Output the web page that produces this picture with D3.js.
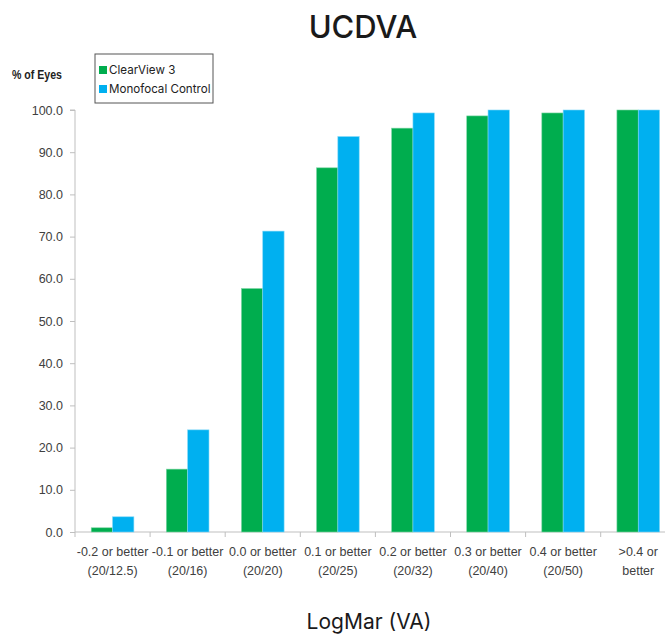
<!DOCTYPE html>
<html><head><meta charset="utf-8">
<script src="https://cdn.jsdelivr.net/npm/d3@7"></script>
<style>body{margin:0;background:#fff}svg{display:block}</style>
</head><body>
<script>
const categories = [["-0.2 or better","(20/12.5)"],["-0.1 or better","(20/16)"],["0.0 or better","(20/20)"],["0.1 or better","(20/25)"],["0.2 or better","(20/32)"],["0.3 or better","(20/40)"],["0.4 or better","(20/50)"],[">0.4 or","better"]];
const seriesNames = ["ClearView 3","Monofocal Control"];
const clearView = [1.0, 14.9, 57.7, 86.3, 95.7, 98.6, 99.3, 100.0];
const monofocal = [3.6, 24.2, 71.3, 93.7, 99.3, 100.0, 100.0, 100.0];
const yTicks = [0,10,20,30,40,50,60,70,80,90,100];
const colors = ["#00ad4e","#00b0f0"];

(function(){
const W=665,H=638;
const svg=d3.select("body").append("svg").attr("width",W).attr("height",H);
const left=75, bandW=75.1, bottom=532, topY=110;
const x=d3.scaleBand().domain(d3.range(categories.length)).range([left,left+bandW*categories.length]).paddingInner(0).paddingOuter(0);
const y=d3.scaleLinear().domain([0,100]).range([bottom,topY]);
const labelFont="'Liberation Sans Narrow','Liberation Sans',sans-serif";
const geoFont="Inter,'Open Sans',sans-serif";

// y axis
const ya=svg.append("g").attr("transform",`translate(${left},0)`).call(d3.axisLeft(y).tickValues(yTicks).tickFormat(d3.format(".1f")).tickSize(5).tickPadding(7));
ya.select(".domain").attr("stroke","#bfbfbf").attr("d",`M-5,${y(100)}H0V${bottom}`);
ya.selectAll(".tick line").attr("stroke","#bfbfbf");
ya.selectAll(".tick text").attr("font-family",labelFont).attr("font-size",12.5).attr("fill","#404040");

// x axis
const xa=svg.append("g").attr("transform",`translate(0,${bottom})`);
xa.append("line").attr("x1",left).attr("x2",W).attr("y1",0).attr("y2",0).attr("stroke","#bfbfbf");
xa.selectAll("line.tk").data(d3.range(categories.length+1)).join("line").attr("class","tk")
  .attr("x1",i=>left+i*x.bandwidth()).attr("x2",i=>left+i*x.bandwidth()).attr("y1",0).attr("y2",5).attr("stroke","#bfbfbf");
const lab=xa.selectAll("text.cl").data(categories).join("text").attr("class","cl")
  .attr("x",(d,i)=>x(i)+x.bandwidth()/2).attr("text-anchor","middle")
  .attr("font-family",labelFont).attr("font-size",12.5).attr("fill","#404040");
lab.append("tspan").attr("x",(d,i)=>x(i)+x.bandwidth()/2).attr("y",24).text(d=>d[0]);
lab.append("tspan").attr("x",(d,i)=>x(i)+x.bandwidth()/2).attr("y",43).text(d=>d[1]);

// bars
const inner=d3.scaleBand().domain([0,1]).range([0,x.bandwidth()]).paddingInner(0).paddingOuter(0.76);
const data=[clearView,monofocal];
data.forEach((vals,s)=>{
  svg.append("g").selectAll("rect").data(vals).join("rect")
    .attr("x",(d,i)=>x(i)+inner(s)).attr("width",inner.bandwidth())
    .attr("y",d=>y(d)).attr("height",d=>bottom-y(d))
    .attr("fill",colors[s]).attr("stroke",s===0?"#7fd6a6":"#7fd7f7").attr("stroke-width",0.6);
});

// titles
svg.append("text").attr("x",363).attr("y",38).attr("text-anchor","middle")
  .attr("font-family",geoFont).attr("font-weight",500).attr("font-size",31).attr("fill","#1a1a1a").text("UCDVA");
svg.append("text").attr("x",369).attr("y",629).attr("text-anchor","middle")
  .attr("font-family",geoFont).attr("font-size",21).attr("fill","#1a1a1a").text("LogMar (VA)");
svg.append("text").attr("x",12).attr("y",79).attr("font-family",labelFont).attr("font-weight","bold").attr("font-size",13)
  .attr("textLength",50).attr("lengthAdjust","spacingAndGlyphs").attr("fill","#222").text("% of Eyes");

// legend
const lg=svg.append("g").attr("transform","translate(95,54)");
lg.append("rect").attr("width",118).attr("height",49).attr("fill","#fff").attr("stroke","#555").attr("stroke-width",1);
seriesNames.forEach((n,i)=>{
  lg.append("rect").attr("x",4).attr("y",12+i*19).attr("width",8).attr("height",8).attr("fill",colors[i]);
  lg.append("text").attr("x",14).attr("y",20+i*19).attr("font-family",geoFont).attr("font-size",11.6).attr("fill","#222").text(n);
});
})();
</script>
</body></html>
